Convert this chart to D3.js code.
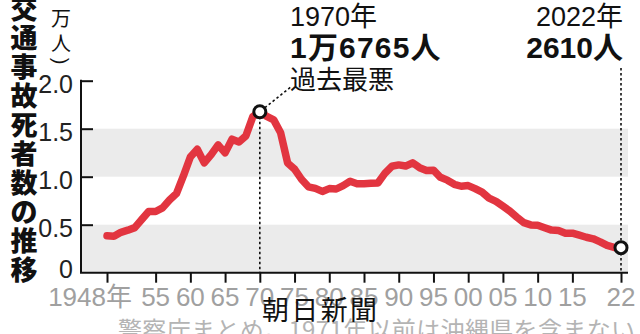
<!DOCTYPE html>
<html><head><meta charset="utf-8">
<script src="https://cdn.jsdelivr.net/npm/d3@7"></script>
<style>
html,body{margin:0;padding:0;background:#fff;overflow:hidden;}
svg{display:block;}
</style></head>
<body>
<svg id="chart" width="640" height="334"></svg>
<script>
const years = d3.range(1948, 2023);
const deaths = [3848,3790,4202,4429,4696,5544,6374,6379,6751,7575,
8248,10079,12055,12865,11445,12301,13318,12484,13904,13618,
14256,16257,16765,16278,15918,14574,11432,10792,9734,8945,
8783,8466,8760,8719,9073,9520,9262,9261,9317,9347,
10344,11086,11227,11109,11451,10942,10649,10684,9942,9640,
9211,9006,9073,8757,8396,7768,7436,6937,6415,5796,
5209,4979,4948,4691,4438,4388,4113,4117,3904,3694,
3532,3215,2839,2636,2610];
const xTickYears = [1948,1955,1960,1965,1970,1975,1980,1985,1990,1995,2000,2005,2010,2015,2022];
const xTickLabels = ["1948年","55","60","65","70","75","80","85","90","95","00","05","10","15","22"];
const yTicks = [0,0.5,1.0,1.5,2.0];
const yTickLabels = ["0","0.5","1.0","1.5","2.0"];
const bands = [[0,0.5],[1.0,1.5]];
const titleChars = ["交","通","事","故","死","者","数","の","推","移"];
const unitChars = ["(","万","人",")"];
const highlights = [
  {year:1970, line1:"1970年", line2:"1万6765人", line3:"過去最悪"},
  {year:2022, line1:"2022年", line2:"2610人"}
];
const credit = "朝日新聞";
const source = "警察庁まとめ。1971年以前は沖縄県を含まない";

const svg = d3.select("#chart");
const axisX = 81, plotRight = 628;
const x = d3.scaleLinear().domain([1948, 2022]).range([107, 621]);
const y = d3.scaleLinear().domain([0, 2]).range([272.7, 80.7]);
const data = years.map((yr,i)=>({year:yr, v:deaths[i]/10000}));

const NUM = "'Liberation Sans Narrow','Liberation Sans','Noto Sans CJK JP',sans-serif";
const SANS = "'Liberation Sans','Noto Sans CJK JP',sans-serif";
const JP = "'Noto Sans CJK JP',sans-serif";

// bands
svg.selectAll("rect.band").data(bands).join("rect")
  .attr("x", axisX).attr("width", plotRight-axisX)
  .attr("y", d=>y(d[1])).attr("height", d=>y(d[0])-y(d[1]))
  .attr("fill", "#ebebeb");

// y axis
const yAxis = d3.axisRight(y).tickValues(yTicks.slice(1)).tickSize(12).tickFormat("");
const gy = svg.append("g").attr("transform", `translate(${axisX},0)`).call(yAxis);
gy.select(".domain").remove();
gy.selectAll(".tick line").attr("stroke","#111").attr("stroke-width",2);
svg.append("line").attr("x1",axisX).attr("x2",axisX).attr("y1",y(2)-1).attr("y2",y(0))
  .attr("stroke","#111").attr("stroke-width",2);
svg.selectAll("text.ylab").data(yTicks).join("text")
  .attr("class","ylab")
  .attr("x", 73).attr("y", (d,i)=> d===0 ? y(d)+5 : y(d)+12)
  .attr("text-anchor","end")
  .attr("font-family", NUM).attr("font-size", 25).attr("fill","#222")
  .text((d,i)=>yTickLabels[i]);

// x axis
const xAxis = d3.axisBottom(x).tickValues(xTickYears).tickSize(10).tickFormat("");
const gx = svg.append("g").attr("transform", `translate(0,${y(0)})`).call(xAxis);
gx.select(".domain").remove();
gx.selectAll(".tick line").attr("stroke","#111").attr("stroke-width",2);
svg.append("line").attr("x1",axisX-1).attr("x2",plotRight).attr("y1",y(0)).attr("y2",y(0))
  .attr("stroke","#111").attr("stroke-width",2);

// source (behind)
svg.append("text").attr("x", 118).attr("y", 339)
  .attr("font-family", JP).attr("font-size", 24).attr("fill","#b4b4b4")
  .attr("textLength", 517).attr("lengthAdjust","spacing")
  .text(source);

svg.selectAll("text.xlab").data(xTickYears).join("text")
  .attr("class","xlab")
  .attr("x", (d,i)=> i===0 ? x(d)+25 : x(d))
  .attr("y", 306)
  .attr("text-anchor", (d,i)=> i===0 ? "end" : "middle")
  .attr("font-family", NUM).attr("font-size", 26).attr("fill","#a0a0a0")
  .text((d,i)=>xTickLabels[i]);

svg.append("text").attr("x", 262).attr("y", 320)
  .attr("font-family", JP).attr("font-size", 27).attr("fill","#111")
  .attr("textLength", 115).attr("lengthAdjust","spacing")
  .text(credit);

// dotted leader lines
const h70 = data.find(d=>d.year===1970), h22 = data.find(d=>d.year===2022);
const dot = {stroke:"#111","stroke-width":1.6,"stroke-dasharray":"2.5,2.5"};
function dl(x1,y1,x2,y2){
  const l = svg.append("line").attr("x1",x1).attr("y1",y1).attr("x2",x2).attr("y2",y2);
  Object.entries(dot).forEach(([k,v])=>l.attr(k,v));
}
dl(x(1970), y(h70.v), x(1970), y(0));
dl(x(1970)+5, y(h70.v)-4, 292, 86);
dl(x(2022), 68, x(2022), y(0));

// line
svg.append("path").datum(data)
  .attr("d", d3.line().x(d=>x(d.year)).y(d=>y(d.v)))
  .attr("fill","none").attr("stroke","#e23540").attr("stroke-width",7.5)
  .attr("stroke-linejoin","round").attr("stroke-linecap","round");

// markers
svg.selectAll("circle.hl").data([h70,h22]).join("circle")
  .attr("cx", d=>x(d.year)).attr("cy", d=>y(d.v)).attr("r", 6)
  .attr("fill","#fff").attr("stroke","#111").attr("stroke-width",3);

// annotations
const a70 = highlights[0], a22 = highlights[1];
svg.append("text").attr("x",290).attr("y",26).attr("font-family",SANS).attr("font-size",27).attr("fill","#111").text(a70.line1);
svg.append("text").attr("x",290).attr("y",58).attr("font-family",SANS).attr("font-size",30).attr("font-weight","bold").attr("letter-spacing",1.2).attr("fill","#111").text(a70.line2);
svg.append("text").attr("x",290).attr("y",89).attr("font-family",JP).attr("font-size",26).attr("fill","#111").text(a70.line3);
svg.append("text").attr("x",623).attr("y",26).attr("text-anchor","end").attr("font-family",SANS).attr("font-size",27).attr("fill","#111").text(a22.line1);
svg.append("text").attr("x",623).attr("y",58).attr("text-anchor","end").attr("font-family",SANS).attr("font-size",30).attr("font-weight","bold").attr("fill","#111").text(a22.line2);

// vertical title
svg.selectAll("text.title").data(titleChars).join("text")
  .attr("class","title")
  .attr("x", 24).attr("y", (d,i)=> 7 + i*29)
  .attr("dominant-baseline","central").attr("text-anchor","middle")
  .attr("font-family", JP).attr("font-size", 27).attr("font-weight", 900).attr("fill","#111")
  .text(d=>d);
const unitY = [-4, 17, 42, 61];
svg.selectAll("text.unit").data(unitChars).join("text")
  .attr("class","unit")
  .attr("transform", (d,i)=> (i===0||i===3) ? `translate(61,${unitY[i]}) rotate(90)` : `translate(61,${unitY[i]})`)
  .attr("dominant-baseline","central").attr("text-anchor","middle")
  .attr("font-family", (d,i)=> (i===0||i===3) ? SANS : JP)
  .attr("font-size", 20).attr("fill","#111")
  .text(d=>d);
</script>
</body></html>
